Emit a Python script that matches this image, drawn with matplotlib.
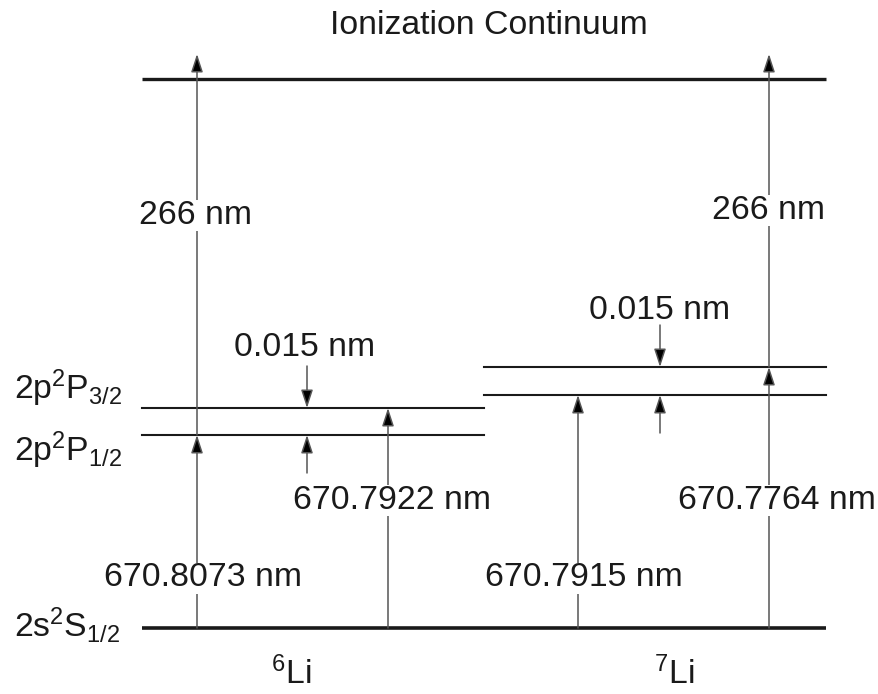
import matplotlib
matplotlib.use('Agg')
import matplotlib.pyplot as plt

plt.rcParams['font.family'] = ['Liberation Sans', 'DejaVu Sans']
plt.rcParams['mathtext.fontset'] = 'custom'
plt.rcParams['mathtext.rm'] = 'Liberation Sans'
plt.rcParams['mathtext.it'] = 'Liberation Sans:italic'

# level heights (image pixel scale, top = 0)
Y_ION = 79
Y_GROUND = 628
Y_LI6 = {'P1/2': 435, 'P3/2': 408}
Y_LI7 = {'P1/2': 395, 'P3/2': 367}

# isotopes and their horizontal spans
isotopes = ['$\\mathrm{^6Li}$', '$\\mathrm{^7Li}$']
iso_x = [291, 674]
span_li6 = (142, 484)
span_li7 = (484, 826)

# transitions: (x, upper level, wavelength label, label position)
li6_lines = [(197, 'P1/2', '670.8073 nm', (203, 578)),
             (388, 'P3/2', '670.7922 nm', (392, 500))]
li7_lines = [(578, 'P1/2', '670.7915 nm', (584, 578)),
             (769, 'P3/2', '670.7764 nm', (777, 500))]
ion_x = [197, 769]
ion_label = '266 nm'
ion_label_pos = [(196, 215), (769, 210)]
split_x = [307, 660]
split_label = '0.015 nm'
split_label_pos = [(305, 347), (660, 310)]

level_labels = ['$\\mathrm{2p^2P_{3/2}}$', '$\\mathrm{2p^2P_{1/2}}$', '$\\mathrm{2s^2S_{1/2}}$']
level_label_y = [388, 450, 625]

FS = 24.3
DARK = '#1a1a1a'
SHAFT = '#555555'


def arrow(ax, x, y0, y1):
    ax.annotate('', xy=(x, y1), xytext=(x, y0),
                arrowprops=dict(arrowstyle='-|>,head_length=1.1,head_width=0.36',
                                color=SHAFT, lw=1.1, shrinkA=0, shrinkB=0,
                                mutation_scale=10, fc='black', ec=SHAFT))


fig = plt.figure(figsize=(8.79, 6.94), dpi=100)
ax = fig.add_axes([0, 0, 1, 1])
ax.set_xlim(0, 879)
ax.set_ylim(694, 0)
ax.axis('off')

# levels
ax.plot([142, 826], [Y_ION, Y_ION], color=DARK, lw=2.4, solid_capstyle='butt')
ax.plot([142, 826], [Y_GROUND, Y_GROUND], color=DARK, lw=2.6, solid_capstyle='butt')
for y in Y_LI6.values():
    ax.plot(span_li6, [y, y], color=DARK, lw=1.5)
for y in Y_LI7.values():
    ax.plot(span_li7, [y, y], color=DARK, lw=1.5)

# optical transitions
for lines, levels in [(li6_lines, Y_LI6), (li7_lines, Y_LI7)]:
    for x, lev, lab, pos in lines:
        arrow(ax, x, Y_GROUND, levels[lev])
        ax.text(pos[0], pos[1], lab, fontsize=FS, ha='center', va='center',
                color=DARK, bbox=dict(fc='white', ec='none', pad=0), zorder=5)

# ionization step
for x, lev, pos in zip(ion_x, [Y_LI6['P1/2'], Y_LI7['P3/2']], ion_label_pos):
    arrow(ax, x, lev, 54)
    ax.text(pos[0], pos[1], ion_label, fontsize=FS, ha='center', va='center',
            color=DARK, bbox=dict(fc='white', ec='none', pad=0), zorder=5)

# fine structure splitting markers
for x, levels, pos in zip(split_x, [Y_LI6, Y_LI7], split_label_pos):
    arrow(ax, x, levels['P3/2'] - 42, levels['P3/2'])
    arrow(ax, x, levels['P1/2'] + 38, levels['P1/2'])
    ax.text(pos[0], pos[1], split_label, fontsize=FS, ha='center', va='center', color=DARK)

ax.text(489, 25, 'Ionization Continuum', fontsize=FS, ha='center', va='center', color=DARK)

for lab, y in zip(level_labels, level_label_y):
    ax.text(14, y, lab, fontsize=FS, ha='left', va='center', color=DARK)

for lab, x in zip(isotopes, iso_x):
    ax.text(x, 674, lab, fontsize=FS, ha='center', va='center', color=DARK)

fig.savefig('out.png', dpi=100)
